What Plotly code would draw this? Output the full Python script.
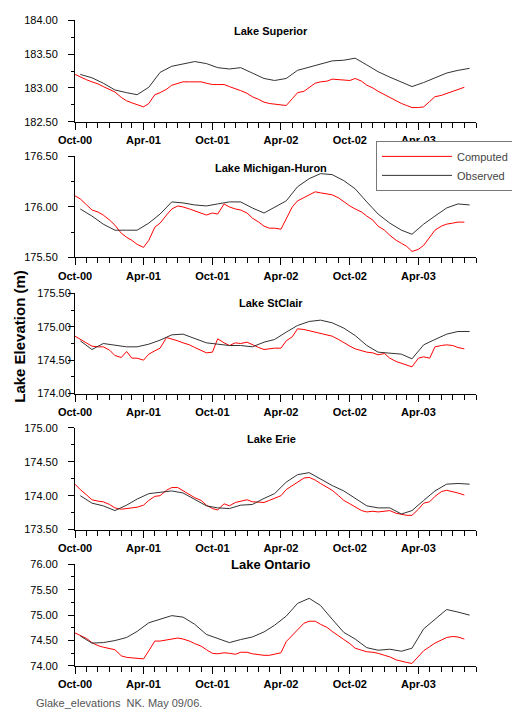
import pandas as pd
import plotly.graph_objects as go

# ---------------- data ----------------
lakes = ["Lake Superior", "Lake Michigan-Huron", "Lake StClair", "Lake Erie", "Lake Ontario"]

# computed series: semi-monthly (1st / 15th), Oct 2000 .. Aug 2003
computed_dates = pd.date_range("2000-10-01", "2003-08-01", freq="SMS")
# observed series: monthly means plotted mid-month, Oct 2000 .. Aug 2003
observed_dates = pd.date_range("2000-10-01", periods=35, freq="MS") + pd.Timedelta(days=14)

superior_computed = [
    183.20, 183.16, 183.12, 183.09, 183.06, 183.02, 182.98, 182.94, 182.86, 182.81,
    182.78, 182.75, 182.72, 182.77, 182.90, 182.93, 182.98, 183.04, 183.07, 183.09,
    183.09, 183.09, 183.09, 183.07, 183.05, 183.05, 183.05, 183.02, 182.99, 182.96,
    182.92, 182.87, 182.83, 182.79, 182.77, 182.76, 182.75, 182.74, 182.84, 182.93,
    182.95, 183.00, 183.07, 183.09, 183.10, 183.13, 183.12, 183.11, 183.11, 183.14,
    183.10, 183.04, 183.00, 182.95, 182.90, 182.86, 182.81, 182.77, 182.74, 182.71,
    182.71, 182.72, 182.80, 182.87, 182.89, 182.92, 182.95, 182.98, 183.01]
superior_observed = [
    183.20, 183.15, 183.07, 182.97, 182.93, 182.90, 183.01, 183.23, 183.32, 183.35,
    183.39, 183.36, 183.30, 183.28, 183.30, 183.22, 183.14, 183.11, 183.14, 183.26,
    183.31, 183.36, 183.40, 183.41, 183.44, 183.34, 183.24, 183.16, 183.08, 183.02,
    183.08, 183.15, 183.22, 183.26, 183.29]

mh_computed = [
    176.11, 176.08, 176.02, 175.97, 175.95, 175.92, 175.87, 175.82, 175.74, 175.70,
    175.67, 175.63, 175.60, 175.67, 175.80, 175.84, 175.92, 175.98, 176.01, 176.00,
    175.98, 175.96, 175.94, 175.92, 175.94, 175.93, 176.03, 176.00, 175.98, 175.97,
    175.94, 175.89, 175.85, 175.81, 175.79, 175.79, 175.78, 175.88, 176.00, 176.06,
    176.09, 176.12, 176.15, 176.14, 176.13, 176.12, 176.09, 176.05, 176.01, 175.98,
    175.95, 175.91, 175.87, 175.81, 175.77, 175.72, 175.67, 175.64, 175.61, 175.56,
    175.58, 175.62, 175.70, 175.77, 175.81, 175.83, 175.84, 175.85, 175.85]
mh_observed = [
    175.98, 175.91, 175.83, 175.77, 175.77, 175.77, 175.84, 175.93, 176.05, 176.04,
    176.02, 176.01, 176.03, 176.05, 176.05, 175.99, 175.94, 176.00, 176.06, 176.20,
    176.28, 176.33, 176.32, 176.26, 176.18, 176.05, 175.93, 175.84, 175.77, 175.73,
    175.83, 175.91, 175.99, 176.03, 176.02]

stclair_computed = [
    174.86, 174.81, 174.75, 174.71, 174.70, 174.70, 174.65, 174.57, 174.54, 174.63,
    174.53, 174.53, 174.50, 174.59, 174.64, 174.68, 174.84, 174.82, 174.79, 174.76,
    174.73, 174.69, 174.65, 174.61, 174.62, 174.82, 174.76, 174.72, 174.76, 174.75,
    174.77, 174.73, 174.69, 174.66, 174.67, 174.68, 174.68, 174.79, 174.85, 174.97,
    174.96, 174.94, 174.92, 174.90, 174.88, 174.86, 174.81, 174.76, 174.71, 174.67,
    174.64, 174.62, 174.61, 174.58, 174.60, 174.53, 174.48, 174.45, 174.43, 174.40,
    174.53, 174.55, 174.53, 174.70, 174.72, 174.73, 174.72, 174.69, 174.67]
stclair_observed = [
    174.79, 174.66, 174.75, 174.73, 174.70, 174.70, 174.74, 174.80, 174.88, 174.89,
    174.82, 174.76, 174.74, 174.72, 174.72, 174.70, 174.77, 174.81, 174.92, 175.02,
    175.08, 175.10, 175.06, 174.98, 174.87, 174.72, 174.62, 174.61, 174.59, 174.52,
    174.73, 174.81, 174.89, 174.93, 174.93]

erie_computed = [
    174.17, 174.09, 174.01, 173.94, 173.92, 173.91, 173.87, 173.82, 173.80, 173.81,
    173.82, 173.83, 173.86, 173.93, 173.99, 174.00, 174.08, 174.12, 174.12, 174.07,
    174.02, 173.97, 173.93, 173.86, 173.81, 173.79, 173.88, 173.85, 173.90, 173.92,
    173.94, 173.91, 173.90, 173.90, 173.93, 173.96, 174.00, 174.09, 174.15, 174.20,
    174.26, 174.27, 174.23, 174.18, 174.13, 174.08, 174.00, 173.93, 173.88, 173.83,
    173.78, 173.76, 173.77, 173.76, 173.77, 173.78, 173.74, 173.72, 173.71, 173.71,
    173.80, 173.89, 173.91, 173.99, 174.06, 174.08, 174.06, 174.04, 174.01]
erie_observed = [
    174.00, 173.89, 173.85, 173.78, 173.86, 173.95, 174.03, 174.05, 174.07, 174.04,
    173.95, 173.85, 173.82, 173.81, 173.86, 173.87, 173.96, 174.03, 174.20, 174.31,
    174.34, 174.25, 174.15, 174.07, 173.96, 173.85, 173.82, 173.82, 173.73, 173.78,
    173.93, 174.07, 174.17, 174.18, 174.17]

ontario_computed = [
    74.65, 74.60, 74.54, 74.46, 74.40, 74.37, 74.35, 74.32, 74.20, 74.17,
    74.16, 74.15, 74.14, 74.30, 74.49, 74.49, 74.51, 74.54, 74.55, 74.53,
    74.49, 74.44, 74.39, 74.32, 74.25, 74.24, 74.26, 74.25, 74.23, 74.27,
    74.27, 74.24, 74.22, 74.21, 74.21, 74.23, 74.26, 74.48, 74.61, 74.72,
    74.84, 74.88, 74.88, 74.82, 74.76, 74.68, 74.60, 74.52, 74.44, 74.35,
    74.31, 74.28, 74.27, 74.25, 74.21, 74.18, 74.12, 74.09, 74.07, 74.05,
    74.18, 74.30, 74.38, 74.45, 74.51, 74.56, 74.58, 74.57, 74.53]
ontario_observed = [
    74.59, 74.45, 74.46, 74.50, 74.56, 74.68, 74.85, 74.92, 74.99, 74.96,
    74.82, 74.62, 74.54, 74.46, 74.52, 74.57, 74.67, 74.80, 74.98, 75.23,
    75.33, 75.19, 74.92, 74.66, 74.53, 74.36, 74.31, 74.33, 74.29, 74.35,
    74.73, 74.92, 75.11, 75.06, 75.00]

y_ranges = [[182.5, 184.0], [175.5, 176.5], [174.0, 175.5], [173.5, 175.0], [74.0, 76.0]]

computed = [superior_computed, mh_computed, stclair_computed, erie_computed, ontario_computed]
observed = [superior_observed, mh_observed, stclair_observed, erie_observed, ontario_observed]

# ---------------- figure ----------------
FONT = "Liberation Sans, Arial, sans-serif"
OFF = 8                      # browser default body margin
W, H = 520 - OFF, 716 - OFF
PLOT_L, PLOT_R, PLOT_T, PLOT_B = 75, 488, 14, 666      # page pixel coords
M_L, M_T = PLOT_L - OFF, PLOT_T - OFF
M_R = W - (PLOT_R - OFF)
M_B = H - (PLOT_B - OFF)
PH = PLOT_B - PLOT_T
PW = PLOT_R - PLOT_L


def py(ypix):
    return (PLOT_B - ypix) / PH


def px(xpix):
    return (xpix - PLOT_L) / PW


domains = [[py(116.7), py(14.3)], [py(253.7), py(151.7)], [py(391), py(290)],
           [py(528.3), py(425.7)], [py(666), py(563.3)]]
title_y = [25, 163, 300, 437, 564]
title_size = [11, 11, 11, 11, 13]
ylabel_standoff = [8, 8, -5, 8, 8]

fig = go.Figure()
for i in range(5):
    sfx = "" if i == 0 else str(i + 1)
    fig.add_trace(go.Scatter(x=computed_dates, y=computed[i], mode="lines", name="Computed",
                             line=dict(color="#ff0000", width=1), showlegend=(i == 0),
                             xaxis="x" + sfx, yaxis="y" + sfx))
for i in range(5):
    sfx = "" if i == 0 else str(i + 1)
    fig.add_trace(go.Scatter(x=observed_dates, y=observed[i], mode="lines", name="Observed",
                             line=dict(color="#333333", width=1), showlegend=(i == 0),
                             xaxis="x" + sfx, yaxis="y" + sfx))

layout = dict(
    width=W, height=H,
    margin=dict(l=M_L, r=M_R, t=M_T, b=M_B),
    paper_bgcolor="white", plot_bgcolor="white",
    font=dict(family=FONT, size=11, color="black"),
    legend=dict(x=px(385), y=py(136), xanchor="left", yanchor="top",
                bordercolor="#777777", borderwidth=1, bgcolor="white",
                font=dict(size=11, color="#444444"), itemwidth=70,
                tracegroupgap=0),
    annotations=[],
)

for i in range(5):
    sfx = "" if i == 0 else str(i + 1)
    layout["xaxis" + sfx] = dict(
        domain=[0, 1], anchor="y" + sfx, type="date",
        range=["2000-10-01", "2003-09-01"],
        tick0="2000-10-01", dtick="M6", tickformat="%b-%y",
        ticks="outside", ticklen=7, tickwidth=1, tickcolor="black",
        showline=True, linecolor="black", linewidth=1,
        showgrid=False, zeroline=False,
        tickfont=dict(family=FONT, size=11, color="black", weight="bold"),
        ticklabelstandoff=1,
        minor=dict(dtick="M1", tick0="2000-10-01", ticks="outside", ticklen=5,
                   tickcolor="black", showgrid=False),
    )
    layout["yaxis" + sfx] = dict(
        domain=domains[i], anchor="x" + sfx, range=y_ranges[i],
        dtick=0.5, tickformat=".2f",
        ticks="outside", ticklen=6, tickwidth=1, tickcolor="black",
        showline=True, linecolor="black", linewidth=1,
        showgrid=False, zeroline=False,
        tickfont=dict(family=FONT, size=11, color="black"),
        ticklabelstandoff=ylabel_standoff[i],
        minor=dict(dtick=0.25, ticks="outside", ticklen=3, tickcolor="black", showgrid=False),
    )
    layout["annotations"].append(dict(
        text="<b>%s</b>" % lakes[i], xref="paper", yref="paper",
        x=px(277), y=py(title_y[i]), xanchor="center", yanchor="middle",
        showarrow=False, font=dict(family=FONT, size=title_size[i], color="black")))

layout["annotations"].append(dict(
    text="<b>Lake Elevation (m)</b>", xref="paper", yref="paper",
    x=px(17), y=py(333), xanchor="center", yanchor="middle", textangle=-90,
    showarrow=False, font=dict(family=FONT, size=15, color="black")))
layout["annotations"].append(dict(
    text="Glake_elevations  NK. May 09/06.", xref="paper", yref="paper",
    x=px(33), y=py(703), xanchor="left", yanchor="middle",
    showarrow=False, font=dict(family=FONT, size=11, color="#555555")))

fig.update_layout(**layout)
fig.write_html("out.html")
